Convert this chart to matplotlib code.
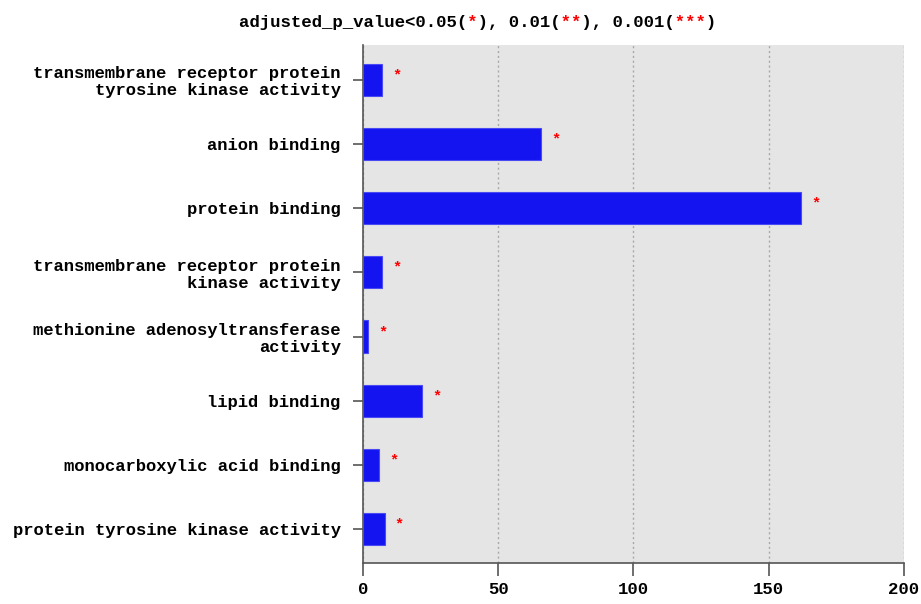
import matplotlib
matplotlib.use('Agg')
import matplotlib.pyplot as plt

terms = ['transmembrane receptor protein\ntyrosine kinase activity',
         'anion binding',
         'protein binding',
         'transmembrane receptor protein\nkinase activity',
         'methionine adenosyltransferase\nactivity',
         'lipid binding',
         'monocarboxylic acid binding',
         'protein tyrosine kinase activity']
counts = [7, 66, 162, 7, 2, 22, 6, 8]
stars = ['*', '*', '*', '*', '*', '*', '*', '*']
xticks = [0, 50, 100, 150, 200]

font = ['Liberation Mono', 'DejaVu Sans Mono']
plt.rcParams['font.family'] = font
plt.rcParams['font.weight'] = 'bold'

fig = plt.figure(figsize=(9.21, 6.04), dpi=100)
ax = fig.add_axes([0.394, 0.068, 0.5875, 0.858])
ax.set_facecolor('#e5e5e5')

ypos = list(range(len(terms)))
ax.barh(ypos, counts, height=0.5, color='#1414f0', edgecolor='#4a4af5', linewidth=0.8, zorder=3)
for y, c, s in zip(ypos, counts, stars):
    ax.text(c + 5.5, y - 0.07, s, color='red', fontsize=11, ha='center', va='center', zorder=4)

ax.set_yticks(ypos)
ax.set_yticklabels(terms, fontsize=12.3, fontweight='bold', ha='right', linespacing=1.15)
ax.set_ylim(len(terms) - 0.47, -0.55)
ax.set_xlim(0, 200)
ax.set_xticks(xticks)
ax.set_xticklabels([str(t) for t in xticks], fontsize=12.5, fontweight='bold')

ax.xaxis.grid(True, linestyle=(0, (1.5, 2)), color='#a8a8a8', linewidth=1, zorder=1)
ax.set_axisbelow(True)

for side in ['top', 'right']:
    ax.spines[side].set_visible(False)
ax.spines['left'].set_color('#555555')
ax.spines['bottom'].set_color('#555555')
ax.spines['left'].set_linewidth(1.2)
ax.spines['bottom'].set_linewidth(1.2)
ax.tick_params(axis='y', length=7, width=1.2, color='#555555', pad=9)
ax.tick_params(axis='x', length=9, width=1.2, color='#555555', pad=5)

# title: black text with red stars laid over it (monospace keeps columns aligned)
title = 'adjusted_p_value<0.05(*), 0.01(**), 0.001(***)'
black = ''.join(' ' if ch == '*' else ch for ch in title)
red = ''.join(ch if ch == '*' else ' ' for ch in title)
fig.text(0.519, 0.962, black, ha='center', va='center', fontsize=12.5, fontweight='bold', color='black')
fig.text(0.519, 0.962, red, ha='center', va='center', fontsize=12.5, fontweight='bold', color='red')

fig.savefig('out.png', dpi=100)
